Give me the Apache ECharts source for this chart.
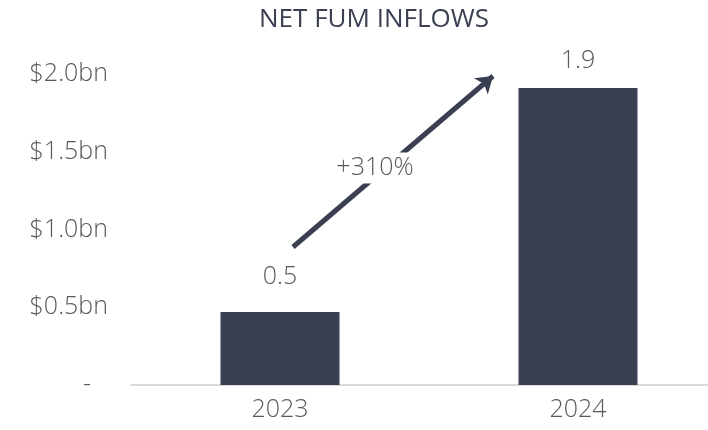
<!DOCTYPE html>
<html>
<head>
<meta charset="utf-8">
<script src="https://cdn.jsdelivr.net/npm/echarts@6/dist/echarts.min.js"></script>
<style>
  html, body { margin: 0; padding: 0; background: #fff; }
  #chart { width: 708px; height: 430px; }
</style>
</head>
<body>
<div id="chart"></div>
<script>
// data
const years = ['2023', '2024'];
const inflows = [0.47, 1.91];
const inflowLabels = ['0.5', '1.9'];
const growthText = '+310%';
const yTicks = [0, 0.5, 1.0, 1.5, 2.0];

const navy = '#3a3f51';
const grey = '#595959';
const font = '"Open Sans", Lato, sans-serif';
// label gap above each bar differs a little in the original
const labelGap = [23, 15];

let myChart = echarts.init(document.getElementById('chart'));
let option = {
  animation: false,
  title: {
    text: 'NET FUM INFLOWS',
    left: 369,
    top: 2,
    textAlign: 'center',
    textStyle: { color: navy, fontSize: 26, fontWeight: 400, fontFamily: font }
  },
  grid: { left: 131, top: 74, width: 596, bottom: 45, outerBoundsMode: 'none', containLabel: false },
  xAxis: {
    type: 'category',
    data: years,
    axisLine: { lineStyle: { color: '#d9d9d9', width: 2 } },
    axisTick: { show: false },
    axisLabel: { color: grey, fontSize: 25, fontWeight: 300, fontFamily: font, margin: 12 }
  },
  yAxis: {
    type: 'value',
    min: yTicks[0],
    max: yTicks[yTicks.length - 1],
    interval: 0.5,
    splitLine: { show: false },
    axisLine: { show: false },
    axisLabel: {
      color: grey, fontSize: 25, fontWeight: 300, fontFamily: font, margin: 23,
      formatter: function (v) {
        return v === 0 ? '{d|-}' : '$' + v.toFixed(1) + 'bn';
      },
      rich: {
        d: { color: grey, fontSize: 25, fontWeight: 300, fontFamily: font, padding: [0, 17, 0, 0] }
      }
    }
  },
  series: [
    {
      type: 'bar',
      data: inflows.map(function (v, i) {
        return { value: v, label: { distance: labelGap[i] } };
      }),
      barWidth: 119,
      itemStyle: { color: navy },
      label: {
        show: true,
        position: 'top',
        color: grey,
        fontSize: 25,
        fontWeight: 300,
        fontFamily: font,
        formatter: function (p) { return inflowLabels[p.dataIndex]; }
      },
      markLine: {
        silent: true,
        symbol: ['none', 'arrow'],
        symbolSize: 16,
        label: { show: false },
        lineStyle: { color: navy, width: 5, type: 'solid' },
        data: [[{ x: 293, y: 247 }, { x: 493, y: 76 }]]
      }
    }
  ],
  graphic: [
    {
      type: 'text',
      x: 375,
      y: 168,
      z: 100,
      style: {
        text: growthText,
        align: 'center',
        verticalAlign: 'middle',
        fill: grey,
        fontSize: 25,
        fontWeight: 300,
        fontFamily: font,
        backgroundColor: '#fff',
        padding: [3, 2]
      }
    }
  ]
};
myChart.setOption(option);
</script>
</body>
</html>
